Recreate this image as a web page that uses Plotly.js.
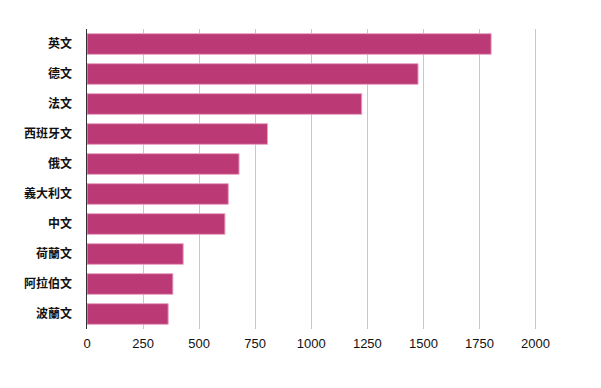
<!DOCTYPE html>
<html><head><meta charset="utf-8">
<script src="https://cdn.plot.ly/plotly-3.0.1.min.js"></script>
<style>body{margin:0;background:#fff}#c{width:601px;height:388px}</style>
</head><body><div id="c"></div>
<script>
const languages = ["英文","德文","法文","西班牙文","俄文","義大利文","中文","荷蘭文","阿拉伯文","波蘭文"];
const counts = [1802, 1476, 1225, 805, 678, 630, 615, 429, 383, 362];
const xTicks = [0, 250, 500, 750, 1000, 1250, 1500, 1750, 2000];

Plotly.newPlot('c', [{
  type: 'bar',
  orientation: 'h',
  y: languages,
  x: counts,
  marker: {color: '#bb3a76', line: {color: '#e9a3c6', width: 1}},
  hoverinfo: 'none'
}], {
  width: 601, height: 388,
  margin: {l: 87, r: 43, t: 29, b: 59},
  paper_bgcolor: '#fff', plot_bgcolor: '#fff',
  bargap: 0.31,
  showlegend: false,
  xaxis: {
    range: [0, 2100],
    tickvals: xTicks,
    ticktext: xTicks.map(String),
    showgrid: true, gridcolor: '#c8c8c8', gridwidth: 1,
    zeroline: false, showline: false,
    ticks: '', ticklen: 0, ticklabelstandoff: 5,
    tickfont: {family: 'Liberation Sans, Arial, sans-serif', size: 13, color: '#111'},
    fixedrange: true
  },
  yaxis: {
    autorange: 'reversed',
    showline: true, linecolor: '#333', linewidth: 1.5,
    showgrid: false, zeroline: false,
    ticks: '', ticklabelstandoff: 11,
    tickfont: {family: 'Noto Sans CJK TC, Noto Sans CJK SC, sans-serif', size: 12, color: '#111', weight: 'bold'},
    fixedrange: true
  }
}, {displayModeBar: false, staticPlot: true});
</script></body></html>
